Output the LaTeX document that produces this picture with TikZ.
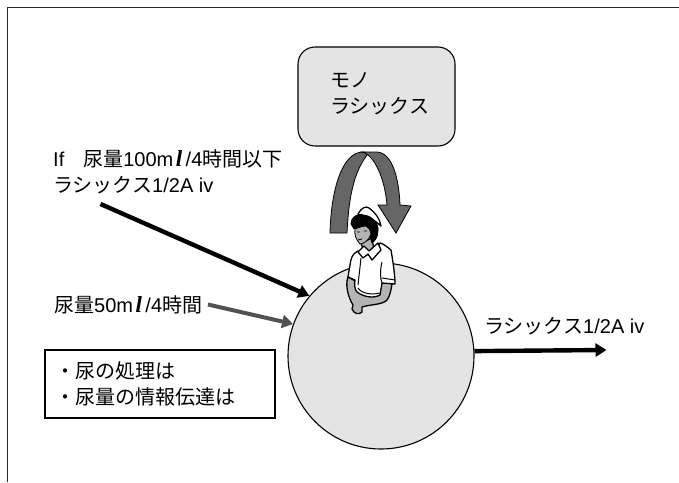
\documentclass[tikz,border=0pt]{standalone}
\usepackage{fontspec}
\setmainfont{Liberation Sans}
\newfontfamily\cjk{Noto Sans CJK JP}
\newfontfamily\litre{Liberation Serif}
\usetikzlibrary{arrows.meta}
\newcommand{\jp}[1]{{\cjk #1}}
\newcommand{\mlunit}{m\kern2.5pt{\litre\bfseries\itshape\fontsize{23}{25}\selectfont l}\kern3.5pt}
\definecolor{panelgray}{HTML}{E4E4E4}
\definecolor{bandgray}{HTML}{666666}
\definecolor{skingray}{HTML}{B4B4B4}
\tikzset{
  label/.style={align=left,anchor=north west,inner sep=0pt,font=\fontsize{20}{25.5}\selectfont},
  thickarrow/.style={line width=4.4pt,-{Triangle[length=11pt,width=13pt]}},
  band/.style={fill=bandgray,draw=black,line width=.8pt},
  outl/.style={draw=black,line width=1.3pt,line join=round}
}
\begin{document}
\begin{tikzpicture}[x=1pt,y=-1pt]
    \useasboundingbox (0,0) rectangle (679,482);
    \coordinate (frametl) at (7.5,7.5);
    \coordinate (frametr) at (679,7.5);
    \coordinate (framebl) at (7.5,482);
    \draw[line width=1.3pt,black!85] (framebl) -- (frametl) -- (frametr);

    \node[draw,line width=1.1pt,fill=panelgray,rounded corners=17pt,minimum width=157pt,minimum height=99pt] (mono) at (376.5,96.5) {};
    \node[label] (monotext) at (330,72) {\jp{モノ}\\[1pt]\jp{ラシックス}};

    \node[circle,draw,line width=1.1pt,fill=panelgray,minimum size=186pt,inner sep=0pt] (patient) at (381,356) {};

    % rotation arrow
    \draw[band] (330,233) .. controls (331,190) and (342,152) .. (363,152)
        .. controls (372,153) and (370,154) .. (367,155)
        .. controls (356,170) and (349,190) .. (347,233) -- cycle;
    \draw[band] (362,152) -- (377,152) .. controls (393,153) and (399,180) .. (400,205)
        -- (411,206) -- (396,233) -- (378,205) -- (387,205)
        .. controls (385,180) and (375,155) .. cycle;

    % nurse
    \draw[outl,fill=skingray] (348,277) .. controls (345,285) and (348,297) .. (353,305)
        -- (352,309) .. controls (354,314) and (359,315) .. (362,312) -- (362,307)
        .. controls (372,304) and (382,305) .. (387,300)
        .. controls (390,296) and (391,290) .. (392,284) -- (380,280) -- (357,282) -- cycle;
    \draw[outl,fill=skingray] (361,243) -- (372,238) -- (374,250) -- (366,258) -- cycle;
    \draw[outl,fill=white] (358,251) .. controls (352,254) and (351,258) .. (350,265)
        -- (348,277) -- (355,280) .. controls (354,285) and (355,290) .. (357,292)
        .. controls (365,298) and (375,298) .. (380,295) -- (382,283) -- (395,284)
        .. controls (395,275) and (393,262) .. (391,250)
        .. controls (387,247) and (384,244) .. (380,243)
        .. controls (376,250) and (370,255) .. (364,256) -- cycle;
    % collar, placket, sleeve
    \draw[outl,fill=white] (364,246) -- (358,252) -- (363,258) -- (368,254) -- (372,260)
        -- (381,250) -- (378,243) -- (369,251) -- cycle;
    \draw[line width=1pt] (361,258) -- (358,285) (382,262) .. controls (380,270) and (380,278) .. (382,283)
        (382,278) -- (395,280) (358,288) .. controls (362,294) and (372,295) .. (380,293);
    \draw[outl,fill=white] (358,214) .. controls (362,207) and (366,206) .. (369,208)
        .. controls (375,212) and (380,219) .. (381,226) -- (375,221) -- (360,217) -- cycle;
    \draw[line width=.7pt,fill=black] (351,224) .. controls (351,217) and (357,213) .. (364,215)
        .. controls (372,216) and (379,223) .. (378,231)
        .. controls (378,237) and (375,241) .. (372,243)
        .. controls (370,238) and (369,230) .. (366,226)
        .. controls (361,225) and (356,229) .. (354,229) -- cycle;
    \draw[line width=.8pt,fill=skingray] (355,229) .. controls (354,234) and (356,240) .. (360,244)
        .. controls (364,244) and (369,240) .. (371,234)
        .. controls (370,230) and (369,227) .. (366,226)
        .. controls (362,226) and (358,228) .. (355,229) -- cycle;
    \draw[line width=.8pt] (357,232) -- (360,232) (364,231) -- (367,231) (358,240) -- (362,239);

    \node[label] (orderlabel) at (53,149.5) {If\hspace{.95em}\jp{尿量}100\mlunit/4\jp{時間以下}\\\jp{ラシックス}1/2A iv};
    \coordinate (orderstart) at (100.5,204);
    \draw[thickarrow] (orderstart) -- (patient.140);

    \node[label] (urinelabel) at (54,295) {\jp{尿量}50\mlunit/4\jp{時間}};
    \coordinate (urinestart) at (208,304.5);
    \draw[thickarrow,draw=black!68,fill=black!68,line width=4pt] (urinestart) -- (patient.160);

    \node[label] (outlabel) at (484,317) {\jp{ラシックス}1/2A iv};
    \coordinate (outend) at (606.5,350);
    \draw[thickarrow] (patient.3.7) -- (outend);

    \node[draw,line width=1.1pt,fill=white,minimum width=230pt,minimum height=68pt] (notes) at (160,384) {};
    \node[label] (notetext) at (55,362) {\jp{・尿の処理は}\\\jp{・尿量の情報伝達は}};
\end{tikzpicture}
\end{document}
